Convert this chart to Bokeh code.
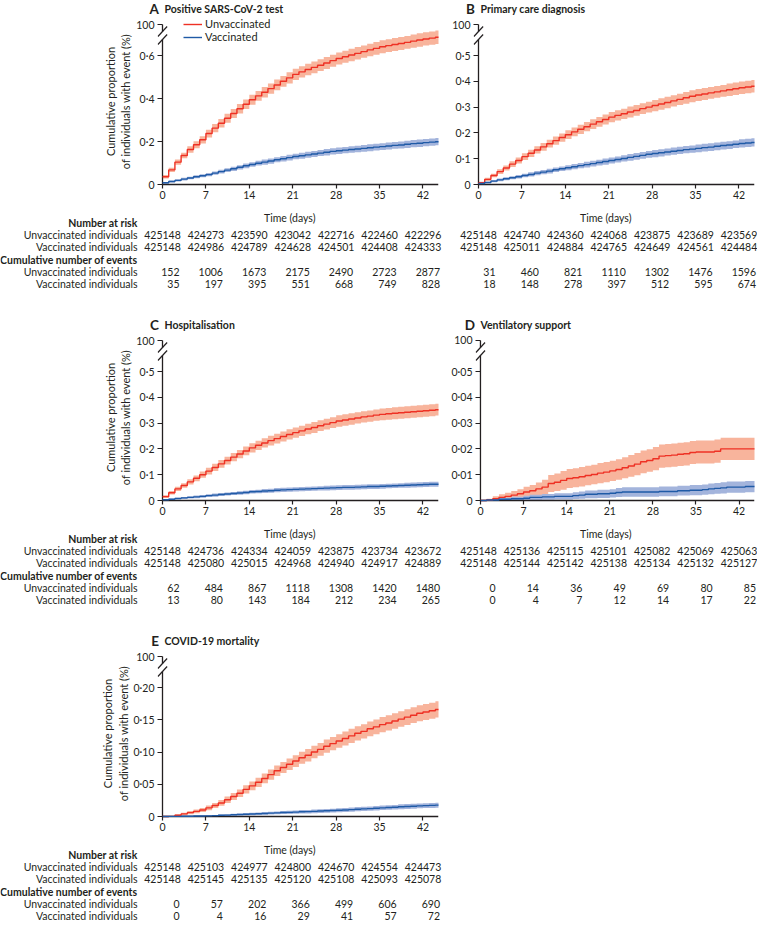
from bokeh.plotting import figure
from bokeh.models import Range1d, FixedTicker, Legend, LegendItem, Spacer
from bokeh.layouts import column, row
from bokeh.embed import file_html
from bokeh.resources import INLINE
from bokeh.core.properties import value

# ---------------------------------------------------------------- data
days = list(range(46))
tick_days = [0, 7, 14, 21, 28, 35, 42]
break_label = "100"
series_names = ["Unvaccinated", "Vaccinated"]
row_labels = ["Number at risk", "Unvaccinated individuals", "Vaccinated individuals",
              "Cumulative number of events", "Unvaccinated individuals", "Vaccinated individuals"]
y_title = "Cumulative proportion\nof individuals with event (%)"
x_title = "Time (days)"

# Panel A
A_title = "Positive SARS-CoV-2 test"
A_yticks = [0, 0.2, 0.4, 0.6]
A_ylabels = ["0", "0·2", "0·4", "0·6"]
A_unvacc = [0.036, 0.068, 0.104, 0.135, 0.163, 0.185, 0.208, 0.237, 0.262, 0.285,
            0.308, 0.330, 0.352, 0.373, 0.394, 0.412, 0.429, 0.446, 0.463, 0.480,
            0.496, 0.512, 0.524, 0.535, 0.545, 0.555, 0.565, 0.576, 0.586, 0.594,
            0.602, 0.610, 0.618, 0.626, 0.633, 0.641, 0.646, 0.651, 0.656, 0.661,
            0.667, 0.672, 0.677, 0.681, 0.685, 0.688]
A_unvacc_ci = [0.008, 0.010, 0.012, 0.013, 0.015, 0.016, 0.017, 0.018, 0.019, 0.020,
               0.021, 0.021, 0.022, 0.022, 0.023, 0.023, 0.024, 0.024, 0.025, 0.025,
               0.026, 0.026, 0.026, 0.027, 0.027, 0.027, 0.028, 0.028, 0.028, 0.028,
               0.029, 0.029, 0.029, 0.029, 0.030, 0.030, 0.030, 0.030, 0.030, 0.030,
               0.031, 0.031, 0.031, 0.031, 0.031, 0.031]
A_vacc = [0.008, 0.014, 0.019, 0.025, 0.030, 0.036, 0.041, 0.046, 0.053, 0.060,
          0.067, 0.073, 0.080, 0.087, 0.093, 0.099, 0.104, 0.109, 0.115, 0.120,
          0.125, 0.130, 0.134, 0.138, 0.142, 0.146, 0.150, 0.154, 0.157, 0.160,
          0.163, 0.165, 0.168, 0.171, 0.174, 0.176, 0.179, 0.182, 0.184, 0.187,
          0.190, 0.192, 0.195, 0.197, 0.199, 0.201]
A_vacc_ci = [0.004, 0.005, 0.005, 0.006, 0.006, 0.007, 0.007, 0.008, 0.008, 0.009,
             0.009, 0.010, 0.010, 0.011, 0.011, 0.011, 0.012, 0.012, 0.012, 0.013,
             0.013, 0.013, 0.014, 0.014, 0.014, 0.014, 0.015, 0.015, 0.015, 0.015,
             0.015, 0.015, 0.016, 0.016, 0.016, 0.016, 0.016, 0.016, 0.016, 0.017,
             0.017, 0.017, 0.017, 0.017, 0.017, 0.017]
A_risk_unvacc = [425148, 424273, 423590, 423042, 422716, 422460, 422296]
A_risk_vacc = [425148, 424986, 424789, 424628, 424501, 424408, 424333]
A_events_unvacc = [152, 1006, 1673, 2175, 2490, 2723, 2877]
A_events_vacc = [35, 197, 395, 551, 668, 749, 828]

# Panel B
B_title = "Primary care diagnosis"
B_yticks = [0, 0.1, 0.2, 0.3, 0.4, 0.5]
B_ylabels = ["0", "0·1", "0·2", "0·3", "0·4", "0·5"]
B_unvacc = [0.007, 0.020, 0.035, 0.050, 0.064, 0.079, 0.093, 0.108, 0.121, 0.134,
            0.146, 0.158, 0.170, 0.182, 0.193, 0.204, 0.214, 0.224, 0.234, 0.243,
            0.252, 0.261, 0.268, 0.274, 0.281, 0.287, 0.294, 0.300, 0.306, 0.312,
            0.318, 0.324, 0.330, 0.336, 0.342, 0.347, 0.351, 0.355, 0.359, 0.363,
            0.367, 0.371, 0.375, 0.378, 0.381, 0.384]
B_unvacc_ci = [0.004, 0.006, 0.007, 0.009, 0.010, 0.011, 0.012, 0.013, 0.014, 0.014,
               0.015, 0.015, 0.016, 0.016, 0.017, 0.017, 0.018, 0.018, 0.019, 0.019,
               0.019, 0.020, 0.020, 0.020, 0.021, 0.021, 0.021, 0.021, 0.022, 0.022,
               0.022, 0.022, 0.022, 0.023, 0.023, 0.023, 0.023, 0.023, 0.023, 0.023,
               0.024, 0.024, 0.024, 0.024, 0.024, 0.024]
B_vacc = [0.004, 0.008, 0.013, 0.018, 0.022, 0.026, 0.030, 0.035, 0.039, 0.044,
          0.048, 0.052, 0.057, 0.061, 0.065, 0.069, 0.073, 0.077, 0.081, 0.085,
          0.089, 0.093, 0.097, 0.101, 0.105, 0.109, 0.113, 0.117, 0.120, 0.123,
          0.126, 0.129, 0.132, 0.135, 0.137, 0.140, 0.143, 0.145, 0.148, 0.151,
          0.153, 0.156, 0.159, 0.161, 0.163, 0.165]
B_vacc_ci = [0.003, 0.003, 0.004, 0.005, 0.006, 0.006, 0.007, 0.007, 0.008, 0.008,
             0.008, 0.009, 0.009, 0.009, 0.010, 0.010, 0.010, 0.011, 0.011, 0.011,
             0.012, 0.012, 0.012, 0.012, 0.013, 0.013, 0.013, 0.013, 0.014, 0.014,
             0.014, 0.014, 0.014, 0.014, 0.014, 0.015, 0.015, 0.015, 0.015, 0.015,
             0.015, 0.015, 0.016, 0.016, 0.016, 0.016]
B_risk_unvacc = [425148, 424740, 424360, 424068, 423875, 423689, 423569]
B_risk_vacc = [425148, 425011, 424884, 424765, 424649, 424561, 424484]
B_events_unvacc = [31, 460, 821, 1110, 1302, 1476, 1596]
B_events_vacc = [18, 148, 278, 397, 512, 595, 674]

# Panel C
C_title = "Hospitalisation"
C_yticks = [0, 0.1, 0.2, 0.3, 0.4, 0.5]
C_ylabels = ["0", "0·1", "0·2", "0·3", "0·4", "0·5"]
C_unvacc = [0.015, 0.030, 0.045, 0.058, 0.072, 0.086, 0.100, 0.114, 0.128, 0.142,
            0.155, 0.168, 0.180, 0.192, 0.204, 0.214, 0.223, 0.232, 0.240, 0.248,
            0.256, 0.263, 0.270, 0.277, 0.283, 0.290, 0.296, 0.302, 0.308, 0.312,
            0.316, 0.320, 0.324, 0.327, 0.331, 0.334, 0.336, 0.338, 0.340, 0.342,
            0.344, 0.346, 0.348, 0.350, 0.352, 0.354]
C_unvacc_ci = [0.005, 0.007, 0.008, 0.009, 0.010, 0.011, 0.012, 0.013, 0.014, 0.015,
               0.015, 0.016, 0.016, 0.017, 0.018, 0.018, 0.018, 0.019, 0.019, 0.019,
               0.020, 0.020, 0.020, 0.020, 0.021, 0.021, 0.021, 0.021, 0.022, 0.022,
               0.022, 0.022, 0.022, 0.022, 0.022, 0.023, 0.023, 0.023, 0.023, 0.023,
               0.023, 0.023, 0.023, 0.023, 0.023, 0.023]
C_vacc = [0.003, 0.005, 0.008, 0.010, 0.012, 0.014, 0.016, 0.019, 0.021, 0.023,
          0.025, 0.027, 0.029, 0.031, 0.034, 0.035, 0.037, 0.038, 0.040, 0.041,
          0.042, 0.043, 0.044, 0.045, 0.046, 0.047, 0.048, 0.049, 0.050, 0.051,
          0.051, 0.052, 0.053, 0.054, 0.054, 0.055, 0.056, 0.057, 0.058, 0.059,
          0.060, 0.061, 0.062, 0.063, 0.063, 0.064]
C_vacc_ci = [0.002, 0.003, 0.003, 0.004, 0.004, 0.005, 0.005, 0.005, 0.006, 0.006,
             0.006, 0.006, 0.007, 0.007, 0.007, 0.007, 0.008, 0.008, 0.008, 0.008,
             0.008, 0.008, 0.008, 0.008, 0.008, 0.008, 0.009, 0.009, 0.009, 0.009,
             0.009, 0.009, 0.009, 0.009, 0.009, 0.009, 0.009, 0.009, 0.009, 0.010,
             0.010, 0.010, 0.010, 0.010, 0.010, 0.010]
C_risk_unvacc = [425148, 424736, 424334, 424059, 423875, 423734, 423672]
C_risk_vacc = [425148, 425080, 425015, 424968, 424940, 424917, 424889]
C_events_unvacc = [62, 484, 867, 1118, 1308, 1420, 1480]
C_events_vacc = [13, 80, 143, 184, 212, 234, 265]

# Panel D
D_title = "Ventilatory support"
D_yticks = [0, 0.01, 0.02, 0.03, 0.04, 0.05]
D_ylabels = ["0", "0·01", "0·02", "0·03", "0·04", "0·05"]
D_unvacc = [0.0, 0.0002, 0.0007, 0.0012, 0.0016, 0.0021, 0.0026, 0.0033, 0.0038, 0.0045,
            0.0052, 0.0066, 0.0071, 0.0078, 0.0085, 0.0088, 0.0092, 0.0097, 0.0101, 0.0106,
            0.0110, 0.0115, 0.0120, 0.0127, 0.0134, 0.0141, 0.0150, 0.0155, 0.0162, 0.0172,
            0.0174, 0.0176, 0.0179, 0.0181, 0.0186, 0.0188, 0.0188, 0.0188, 0.0191, 0.0200,
            0.0200, 0.0200, 0.0200, 0.0200, 0.0200, 0.0200]
D_unvacc_ci = [0.0, 0.0005, 0.0009, 0.0012, 0.0014, 0.0016, 0.0018, 0.0020, 0.0022, 0.0025,
               0.0028, 0.0033, 0.0034, 0.0036, 0.0037, 0.0037, 0.0038, 0.0038, 0.0038, 0.0039,
               0.0039, 0.0039, 0.0040, 0.0041, 0.0042, 0.0043, 0.0044, 0.0044, 0.0045, 0.0045,
               0.0045, 0.0045, 0.0045, 0.0045, 0.0045, 0.0045, 0.0045, 0.0045, 0.0045, 0.0043,
               0.0043, 0.0043, 0.0043, 0.0043, 0.0043, 0.0043]
D_vacc = [0.0, 0.0002, 0.0002, 0.0005, 0.0005, 0.0007, 0.0007, 0.0009, 0.0012, 0.0012,
          0.0014, 0.0014, 0.0016, 0.0016, 0.0016, 0.0019, 0.0021, 0.0024, 0.0024, 0.0026,
          0.0026, 0.0028, 0.0031, 0.0033, 0.0033, 0.0033, 0.0033, 0.0033, 0.0033, 0.0035,
          0.0035, 0.0035, 0.0038, 0.0038, 0.0040, 0.0040, 0.0042, 0.0045, 0.0047, 0.0049,
          0.0052, 0.0052, 0.0052, 0.0054, 0.0054, 0.0054]
D_vacc_ci = [0.0, 0.0004, 0.0004, 0.0006, 0.0006, 0.0008, 0.0008, 0.0009, 0.0010, 0.0010,
             0.0011, 0.0011, 0.0012, 0.0012, 0.0012, 0.0013, 0.0014, 0.0015, 0.0015, 0.0016,
             0.0016, 0.0016, 0.0017, 0.0018, 0.0018, 0.0018, 0.0018, 0.0018, 0.0018, 0.0019,
             0.0019, 0.0019, 0.0019, 0.0019, 0.0020, 0.0020, 0.0020, 0.0021, 0.0021, 0.0022,
             0.0022, 0.0022, 0.0022, 0.0022, 0.0022, 0.0022]
D_risk_unvacc = [425148, 425136, 425115, 425101, 425082, 425069, 425063]
D_risk_vacc = [425148, 425144, 425142, 425138, 425134, 425132, 425127]
D_events_unvacc = [0, 14, 36, 49, 69, 80, 85]
D_events_vacc = [0, 4, 7, 12, 14, 17, 22]

# Panel E
E_title = "COVID-19 mortality"
E_yticks = [0, 0.05, 0.10, 0.15, 0.20]
E_ylabels = ["0", "0·05", "0·10", "0·15", "0·20"]
E_unvacc = [0.0, 0.0002, 0.0020, 0.0040, 0.0060, 0.0080, 0.0100, 0.0134, 0.0170, 0.0210,
            0.0260, 0.0310, 0.0360, 0.0420, 0.0475, 0.0530, 0.0590, 0.0650, 0.0710, 0.0760,
            0.0810, 0.0860, 0.0910, 0.0950, 0.1000, 0.1040, 0.1090, 0.1130, 0.1170, 0.1210,
            0.1250, 0.1290, 0.1320, 0.1360, 0.1390, 0.1425, 0.1450, 0.1480, 0.1510, 0.1540,
            0.1570, 0.1600, 0.1620, 0.1640, 0.1660, 0.1680]
E_unvacc_ci = [0.0, 0.0005, 0.0014, 0.0020, 0.0024, 0.0028, 0.0031, 0.0036, 0.0040, 0.0045,
               0.0050, 0.0055, 0.0059, 0.0064, 0.0068, 0.0071, 0.0075, 0.0079, 0.0082, 0.0085,
               0.0088, 0.0091, 0.0093, 0.0096, 0.0098, 0.0100, 0.0102, 0.0104, 0.0106, 0.0108,
               0.0110, 0.0111, 0.0112, 0.0114, 0.0115, 0.0117, 0.0118, 0.0119, 0.0120, 0.0121,
               0.0122, 0.0123, 0.0124, 0.0125, 0.0126, 0.0126]
E_vacc = [0.0, 0.0002, 0.0002, 0.0005, 0.0005, 0.0007, 0.0007, 0.0009, 0.0014, 0.0019,
          0.0021, 0.0026, 0.0031, 0.0035, 0.0038, 0.0042, 0.0047, 0.0052, 0.0056, 0.0061,
          0.0064, 0.0068, 0.0073, 0.0075, 0.0080, 0.0085, 0.0089, 0.0092, 0.0096, 0.0101,
          0.0106, 0.0113, 0.0118, 0.0122, 0.0129, 0.0134, 0.0139, 0.0144, 0.0151, 0.0155,
          0.0160, 0.0165, 0.0169, 0.0172, 0.0176, 0.0179]
E_vacc_ci = [0.0, 0.0004, 0.0004, 0.0006, 0.0006, 0.0008, 0.0008, 0.0009, 0.0011, 0.0013,
             0.0014, 0.0015, 0.0017, 0.0018, 0.0019, 0.0020, 0.0021, 0.0022, 0.0023, 0.0024,
             0.0025, 0.0026, 0.0027, 0.0027, 0.0028, 0.0029, 0.0029, 0.0030, 0.0031, 0.0031,
             0.0032, 0.0033, 0.0033, 0.0034, 0.0035, 0.0035, 0.0036, 0.0036, 0.0037, 0.0037,
             0.0038, 0.0038, 0.0038, 0.0039, 0.0039, 0.0039]
E_risk_unvacc = [425148, 425103, 424977, 424800, 424670, 424554, 424473]
E_risk_vacc = [425148, 425145, 425135, 425120, 425108, 425093, 425078]
E_events_unvacc = [0, 57, 202, 366, 499, 606, 690]
E_events_vacc = [0, 4, 16, 29, 41, 57, 72]

# ---------------------------------------------------------------- style / layout
FONT = "Lato"
INK = "#231F20"
RED = "#EE3124"
RED_BAND = "#F8B49C"
BLUE = "#1F5AA6"
BLUE_BAND = "#A3B4DC"

COL_W = {"L": 448, "R": 309}
MB_L = {"L": 157, "R": 25}
FRAME_W = 281
XPAD_PX = 5.0
X_END = 44.5
PXD = (FRAME_W - XPAD_PX) / X_END
XPAD_D = XPAD_PX / PXD
TITLE_H = 16
PLOT_H = 192
FRAME_H = 170
Y0_PX = 2.0
SPAN_PX = 129.0
BREAK_PX = 31.0
TABLE_H = 108
TABLE_H_LAST = 86
ROW0 = 14.3
ROW_H = 12.3


def axis_px(col):
    return MB_L[col] + XPAD_PX


def strip_range(col):
    w = COL_W[col]
    a = axis_px(col)
    return Range1d(-a / PXD, (w - a) / PXD)


def bare(width, height, xr, yr):
    f = figure(width=width, height=height, x_range=xr, y_range=yr,
               x_axis_location=None, y_axis_location=None, toolbar_location=None,
               output_backend="svg", min_border=0)
    f.outline_line_color = None
    f.grid.visible = False
    return f


def make_title(col, letter, text):
    t = bare(COL_W[col], TITLE_H, strip_range(col), Range1d(0, 1))
    t.text(x=[0], y=[0.5], text=[letter], x_offset=-3.5, text_align="right", text_baseline="middle",
           text_font=value(FONT), text_font_style="bold", text_font_size=value("13.5px"), text_color=INK)
    t.text(x=[0], y=[0.5], text=[text], x_offset=2, text_align="left", text_baseline="middle",
           text_font=value(FONT), text_font_style="bold", text_font_size=value("10.5px"), text_color=INK)
    return t


def make_plot(col, yticks, ylabels, unv, unv_ci, vac, vac_ci, ylab=False, legend=False):
    ymax = yticks[-1]
    ppu = SPAN_PX / ymax
    top = round((SPAN_PX + BREAK_PX) / ppu, 6)
    p = figure(width=COL_W[col], height=PLOT_H,
               x_range=Range1d(-XPAD_D, X_END),
               y_range=Range1d(-Y0_PX / ppu, (FRAME_H - Y0_PX) / ppu),
               output_backend="svg", toolbar_location=None,
               min_border_left=MB_L[col], min_border_right=COL_W[col] - MB_L[col] - FRAME_W,
               min_border_top=0, min_border_bottom=PLOT_H - FRAME_H)
    p.outline_line_color = None
    p.grid.visible = False

    lo_u = [max(0.0, a - b) for a, b in zip(unv, unv_ci)]
    hi_u = [a + b for a, b in zip(unv, unv_ci)]
    lo_v = [max(0.0, a - b) for a, b in zip(vac, vac_ci)]
    hi_v = [a + b for a, b in zip(vac, vac_ci)]
    p.varea_step(x=days, y1=lo_u, y2=hi_u, step_mode="after", fill_color=RED_BAND, fill_alpha=1)
    p.varea_step(x=days, y1=lo_v, y2=hi_v, step_mode="after", fill_color=BLUE_BAND, fill_alpha=1)

    # axis lines (with the broken y axis)
    yb_hi = top - 7.0 / ppu
    yb_lo = top - 15.0 / ppu
    p.segment(x0=[0, 0, 0], y0=[0, 0, yb_hi], x1=[X_END, 0, 0], y1=[0, yb_lo, top],
              line_color=INK, line_width=1.3)
    dx = 4.6 / PXD
    dy = 5.0 / ppu
    p.segment(x0=[-dx, -dx], y0=[yb_hi - dy, yb_lo - dy], x1=[dx, dx], y1=[yb_hi + dy, yb_lo + dy],
              line_color=INK, line_width=1.2)

    r_u = p.step(x=days, y=unv, mode="after", line_color=RED, line_width=1.4)
    r_v = p.step(x=days, y=vac, mode="after", line_color=BLUE, line_width=1.4)

    xa = p.xaxis[0]
    ya = p.yaxis[0]
    xa.ticker = FixedTicker(ticks=tick_days, minor_ticks=[])
    ya.ticker = FixedTicker(ticks=list(yticks) + [top], minor_ticks=[])
    ov = dict(zip(yticks, ylabels))
    ov[top] = break_label
    ya.major_label_overrides = ov
    for ax in (xa, ya):
        ax.axis_line_color = None
        ax.major_tick_line_color = INK
        ax.major_tick_line_width = 1.2
        ax.minor_tick_line_color = None
        ax.major_label_text_font = FONT
        ax.major_label_text_font_size = "10.5px"
        ax.major_label_text_color = INK
    xa.major_tick_in = 2
    xa.major_tick_out = 2
    xa.major_label_standoff = 2
    ya.major_tick_in = 5
    ya.major_tick_out = 0
    ya.major_label_standoff = 3
    if ylab:
        ya.axis_label = y_title
        ya.axis_label_text_font = FONT
        ya.axis_label_text_font_style = "normal"
        ya.axis_label_text_font_size = "11px"
        ya.axis_label_text_color = INK
        ya.axis_label_standoff = 1
    if legend:
        lg = Legend(items=[LegendItem(label=series_names[0], renderers=[r_u]),
                           LegendItem(label=series_names[1], renderers=[r_v])],
                    location=(26, 143))
        lg.border_line_color = None
        lg.background_fill_alpha = 0
        lg.padding = 0
        lg.margin = 0
        lg.spacing = 0
        lg.glyph_width = 19
        lg.glyph_height = 12
        lg.label_height = 12
        lg.label_standoff = 3
        lg.label_text_font = FONT
        lg.label_text_font_size = "11px"
        lg.label_text_color = INK
        p.add_layout(lg)
    return p


def make_table(col, height, risk_u, risk_v, ev_u, ev_v, labels):
    t = bare(COL_W[col], height, strip_range(col),
             Range1d((height - ROW0) / ROW_H, -ROW0 / ROW_H))
    common = dict(text_font=value(FONT), text_font_size=value("10.5px"), text_color=INK,
                  text_baseline="middle")
    t.text(x=[21], y=[-0.35], text=[x_title], x_offset=-3, text_align="center", **common)
    t.text(x=tick_days, y=[1] * 7, text=[str(v) for v in risk_u], text_align="center", **common)
    t.text(x=tick_days, y=[2] * 7, text=[str(v) for v in risk_v], text_align="center", **common)
    t.text(x=tick_days, y=[4] * 7, text=[str(v) for v in ev_u], x_offset=17, text_align="right", **common)
    t.text(x=tick_days, y=[5] * 7, text=[str(v) for v in ev_v], x_offset=17, text_align="right", **common)
    if labels:
        for i, lab in enumerate(row_labels):
            bold = i in (0, 3)
            t.text(x=[0], y=[i], text=[lab], x_offset=-25, text_align="right",
                   text_font_style="bold" if bold else "normal", **common)
    return t


tA = make_title("L", "A", A_title)
tB = make_title("R", "B", B_title)
pA = make_plot("L", A_yticks, A_ylabels, A_unvacc, A_unvacc_ci, A_vacc, A_vacc_ci, ylab=True, legend=True)
pB = make_plot("R", B_yticks, B_ylabels, B_unvacc, B_unvacc_ci, B_vacc, B_vacc_ci)
tabA = make_table("L", TABLE_H, A_risk_unvacc, A_risk_vacc, A_events_unvacc, A_events_vacc, True)
tabB = make_table("R", TABLE_H, B_risk_unvacc, B_risk_vacc, B_events_unvacc, B_events_vacc, False)

tC = make_title("L", "C", C_title)
tD = make_title("R", "D", D_title)
pC = make_plot("L", C_yticks, C_ylabels, C_unvacc, C_unvacc_ci, C_vacc, C_vacc_ci, ylab=True)
pD = make_plot("R", D_yticks, D_ylabels, D_unvacc, D_unvacc_ci, D_vacc, D_vacc_ci)
tabC = make_table("L", TABLE_H, C_risk_unvacc, C_risk_vacc, C_events_unvacc, C_events_vacc, True)
tabD = make_table("R", TABLE_H, D_risk_unvacc, D_risk_vacc, D_events_unvacc, D_events_vacc, False)

tE = make_title("L", "E", E_title)
pE = make_plot("L", E_yticks, E_ylabels, E_unvacc, E_unvacc_ci, E_vacc, E_vacc_ci, ylab=True)
tabE = make_table("L", TABLE_H_LAST, E_risk_unvacc, E_risk_vacc, E_events_unvacc, E_events_vacc, True)

layout = column(row(tA, tB), row(pA, pB), row(tabA, tabB),
                row(tC, tD), row(pC, pD), row(tabC, tabD),
                row(tE, Spacer(width=COL_W["R"], height=TITLE_H)),
                row(pE, Spacer(width=COL_W["R"], height=PLOT_H)),
                row(tabE, Spacer(width=COL_W["R"], height=TABLE_H_LAST)))

open("out.html", "w").write(file_html(layout, INLINE))
